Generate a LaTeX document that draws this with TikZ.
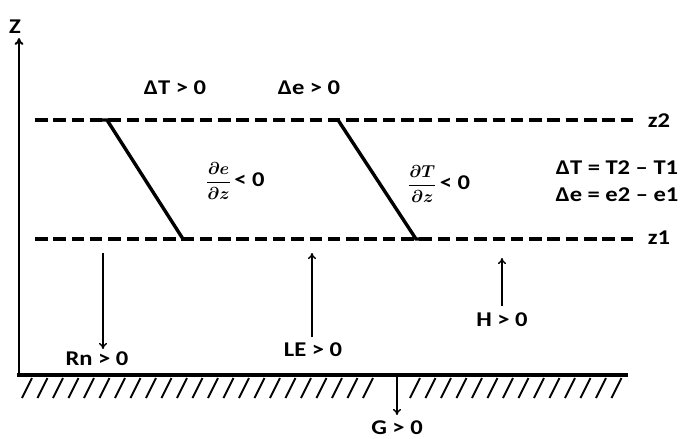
\documentclass[tikz,border=0pt]{standalone}
\usepackage{fontspec}
\setmainfont{Carlito}[FakeStretch=1.17]
\usetikzlibrary{arrows.meta}
\newcommand{\myfrac}[2]{{\fontsize{16}{18}\selectfont\boldmath$\displaystyle\frac{#1}{#2}$}}
\begin{document}
\begin{tikzpicture}[x=1pt,y=-1pt,
  lbl/.style={font=\bfseries\fontsize{21}{23}\selectfont, inner sep=0pt},
  fraclbl/.style={font=\bfseries\fontsize{21}{23}\selectfont, inner sep=0pt, anchor=west},
  dashline/.style={line width=3.8pt, dash pattern=on 12.5pt off 5.8pt},
  slant/.style={line width=3.4pt, line join=miter},
  flux/.style={line width=1.4pt, -{To[length=6pt,width=8pt]}},
  hatch/.style={line width=1.8pt}]
\useasboundingbox (0,0) rectangle (681,439);
% axis
\coordinate (axB) at (19,375);
\coordinate (axT) at (19,38);
\draw[line width=2pt, -{To[length=7pt,width=9pt]}] (axB) -- (axT);
\node[lbl] (zlab) at (15,27) {Z};
% ground
\coordinate (gL) at (17,375);
\coordinate (gR) at (628,375);
\draw[line width=3.4pt] (gL) -- (gR);
\foreach \x in {22,37.5,...,372} \draw[hatch] (\x,398) -- (\x+10,378);
\foreach \x in {410,425.5,...,622} \draw[hatch] (\x,398) -- (\x+10,378);
% dashed levels
\coordinate (z2L) at (35,120); \coordinate (z2R) at (634,120);
\coordinate (z1L) at (35,239); \coordinate (z1R) at (634,239);
\draw[dashline] (z2L) -- (z2R);
\draw[dashline] (z1L) -- (z1R);
\node[lbl] (z2) at (659,121) {z2};
\node[lbl] (z1) at (659,238) {z1};
% slanted profiles
\draw[slant] (100,120) -- (107,120) -- (183,239) -- (190,239);
\draw[slant] (332,120) -- (338,120) -- (416,239) -- (423,239);
% labels
\node[lbl] (dT) at (175,88) {ΔT > 0};
\node[lbl] (de) at (309,88) {Δe > 0};
\node[fraclbl] (dedz) at (206,181) {\myfrac{\partial e}{\partial z}\,< 0};
\node[fraclbl] (dTdz) at (408,184) {\myfrac{\partial T}{\partial z}\,< 0};
\node[lbl] (defT) at (617,168) {ΔT = T2 – T1};
\node[lbl] (defe) at (617,195) {Δe = e2 – e1};
% fluxes
\coordinate (rnA) at (103,253); \coordinate (rnB) at (103,349);
\draw[flux] (rnA) -- (rnB);
\node[lbl] (rn) at (97,359) {Rn > 0};
\coordinate (leA) at (312,337); \coordinate (leB) at (312,253);
\draw[flux] (leA) -- (leB);
\node[lbl] (le) at (313,350) {LE > 0};
\coordinate (hA) at (502,306); \coordinate (hB) at (502,258);
\draw[flux] (hA) -- (hB);
\node[lbl] (h) at (502,320) {H > 0};
\coordinate (gA) at (397,376); \coordinate (gB) at (397,415);
\draw[flux] (gA) -- (gB);
\node[lbl] (g) at (397,428) {G > 0};
\end{tikzpicture}
\end{document}
